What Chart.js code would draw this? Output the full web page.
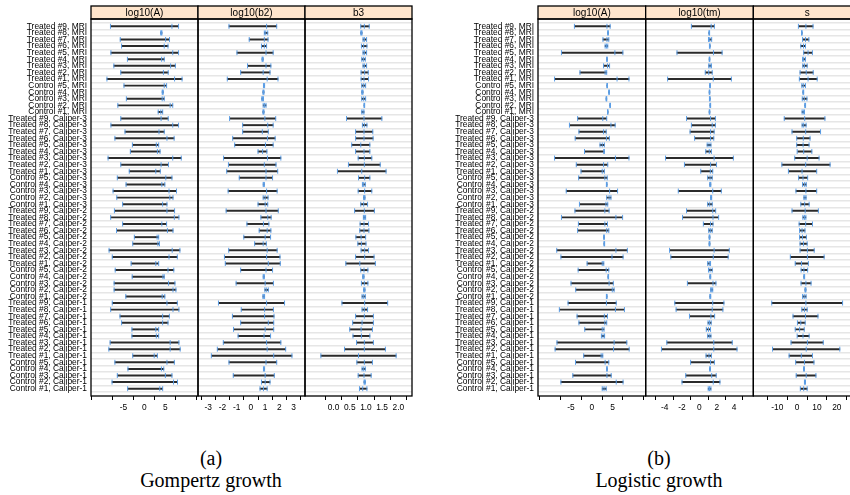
<!DOCTYPE html>
<html><head><meta charset="utf-8">
<script src="https://cdn.jsdelivr.net/npm/chart.js@4.4.1/dist/chart.umd.min.js"></script>
<style>
html,body{margin:0;padding:0;background:#fff;width:850px;height:495px;overflow:hidden;position:relative}
.cv{position:absolute;top:0}
.cap{position:absolute;font-family:"Liberation Serif","Times New Roman",serif;font-size:20px;line-height:24px;text-align:center;white-space:nowrap;color:#000;width:300px}
</style></head><body>
<canvas id="gomp" class="cv" width="420" height="420" style="left:0"></canvas>
<canvas id="logi" class="cv" width="444" height="420" style="left:425px"></canvas>
<div class="cap" style="left:61px;top:446px">(a)</div>
<div class="cap" style="left:61px;top:468px">Gompertz growth</div>
<div class="cap" style="left:509px;top:446px">(b)</div>
<div class="cap" style="left:509px;top:468px">Logistic growth</div>
<script>
const methods = ['MRI', 'Caliper-3', 'Caliper-2', 'Caliper-1'];
const subjects = ['Treated #9', 'Treated #8', 'Treated #7', 'Treated #6', 'Treated #5', 'Treated #4', 'Treated #3', 'Treated #2', 'Treated #1',
                  'Control #5', 'Control #4', 'Control #3', 'Control #2', 'Control #1'];
const categories = methods.flatMap(m => subjects.map(s => s + ', ' + m));

const gompertzTitles = ['log10(A)', 'log10(b2)', 'b3'];
const logisticTitles = ['log10(A)', 'log10(tm)', 's'];

// Gompertz: log10(A)
const gA_lo  = [-8.08,3.9,-5.75,-5.43,-7.97,-4.04,-7.27,-5.62,-8.92,-4.86,4.25,-4.29,-6.32,3.30, -5.62,-7.97,-4.61,-7.02,-2.85,-3.34,-8.65,-5.62,-3.6,-6.45,-4.36,-7.46,-6.57,-5.18, -7.14,-8.03,-5.18,-6.64,-2.39,-2.77,-8.41,-7.65,-3.15,-6.95,-2.9,-7.21,-7.21,-4.42, -7.65,-8.03,-5.81,-5.43,-2.96,-2.96,-8.16,-8.46,-2.77,-7.02,-3.91,-6.45,-7.7,-3.98];
const gA_est = [6.58,4.06,5.07,4.74,6.77,4.12,6.26,4.55,7.21,4.74,4.37,4.25,6.15,3.93, 3.99,6.77,3.49,5.39,2.85,3.11,6.77,3.99,2.73,5.12,4.17,5.88,6.07,4.36, 5.39,7.15,4.17,5.5,3.04,3.23,6.64,5.88,2.73,5.64,4.43,5.77,6.83,4.25, 5.39,6.83,4.36,4.36,2.73,2.85,6.15,6.15,2.35,5.39,4.06,5.01,6.96,3.68];
const gA_hi  = [8.16,4.2,6.0,5.64,8.16,4.74,7.4,5.69,8.99,5.31,4.5,4.74,6.77,4.37, 5.69,8.16,4.74,7.1,3.42,3.74,8.8,5.75,3.8,6.58,4.88,7.67,6.83,5.39, 7.21,8.24,5.31,6.83,3.42,3.61,8.48,7.86,3.42,7.02,4.74,7.29,7.53,4.88, 7.86,8.24,5.96,5.64,3.42,3.42,8.24,8.54,3.11,7.15,4.63,6.58,7.91,4.37];
// Gompertz: log10(b2)
const gB_lo  = [-1.54,0.94,-0.12,0.74,-0.98,0.78,-0.24,-0.72,-1.66,0.88,0.84,0.76,0.86,0.84, -1.5,-0.58,-0.58,-1.28,-1.14,0.5,-1.92,-1.58,-1.7,-0.82,0.86,-1.6,0.86,0.5, -1.74,0.7,-0.28,0.58,-0.5,0.26,-1.56,-1.86,-1.8,-0.72,0.86,-1.04,0.98,0.84, -2.28,-0.68,-1.3,-0.72,-1.22,-0.9,-1.94,-2.36,-2.78,-1.54,0.88,-1.24,0.74,0.64];
const gB_est = [1.10,1.04,0.94,0.94,1.06,0.82,1.06,0.86,1.14,0.92,0.88,0.82,0.96,0.88, 0.98,1.18,0.8,1.16,1.02,0.82,1.16,0.94,1.06,1.06,0.9,1.1,1.0,1.0, 1.06,1.18,0.88,1.14,1.0,0.86,1.14,1.1,1.22,1.06,0.9,1.0,1.08,0.9, 1.1,0.96,0.96,1.22,1.0,0.92,1.1,1.14,1.6,1.06,0.92,1.0,1.0,0.88];
const gB_hi  = [1.81,1.18,1.2,1.1,1.56,0.86,1.4,1.34,1.9,0.96,0.92,0.88,1.06,0.92, 1.74,1.56,1.22,1.7,1.56,1.12,2.1,1.76,1.88,1.52,0.94,1.84,1.2,1.18, 1.92,1.42,1.26,1.4,1.38,1.08,1.84,2.04,2.06,1.52,0.94,1.58,1.22,0.96, 2.36,1.58,1.62,1.6,1.6,1.38,2.1,2.44,2.88,1.81,0.96,1.64,1.34,1.14];
// Gompertz: b3
const gC_lo  = [0.84,0.84,0.91,0.86,0.91,0.87,0.91,0.85,0.85,0.87,0.87,0.87,0.94,0.87, 0.4,0.89,0.68,0.68,0.56,0.68,0.76,0.46,0.12,0.77,0.89,0.76,0.93,0.84, 0.65,0.92,0.82,0.81,0.69,0.75,0.85,0.68,0.38,0.84,0.9,0.86,0.93,0.88, 0.26,0.88,0.68,0.59,0.5,0.6,0.71,0.34,-0.39,0.72,0.88,0.76,0.94,0.8];
const gC_est = [0.95,0.86,0.95,0.93,0.95,0.92,0.95,0.96,0.94,0.93,0.89,0.93,0.95,0.91, 0.94,0.95,0.94,0.94,0.84,0.94,0.95,0.95,0.87,0.96,0.93,0.96,0.95,0.93, 0.95,0.95,0.94,0.94,0.85,0.86,0.96,0.96,0.81,0.94,0.92,0.95,0.95,0.93, 0.96,0.95,0.95,0.88,0.85,0.86,0.95,0.95,0.77,0.95,0.93,0.94,0.96,0.9];
const gC_hi  = [1.1,0.88,1.02,1.03,1.02,0.98,1.02,1.07,1.08,0.99,0.91,0.99,0.96,0.94, 1.49,1.03,1.21,1.22,1.12,1.12,1.18,1.44,1.62,1.12,0.98,1.18,0.97,1.05, 1.26,0.99,1.08,1.09,0.99,1.0,1.08,1.25,1.29,1.06,0.94,1.06,0.97,0.98, 1.67,1.05,1.23,1.23,1.2,1.12,1.23,1.6,1.93,1.2,0.98,1.16,0.98,1.03];

// Logistic: log10(A)
const lA_lo  = [-4.17,3.85,2.71,3.23,-7.29,3.6,2.85,-2.83,-8.95,3.65,4.1,3.46,4.36,3.8, -3.4,-5.37,-3.08,-3.98,2.0,-1.74,-8.95,-3.72,-2.58,-3.15,3.53,-6.14,3.61,-2.96, -4.04,-7.29,-3.21,-3.4,2.88,2.95,-8.43,-7.42,-1.11,-3.27,3.92,-4.99,-3.85,3.53, -5.7,-7.8,-3.53,-3.08,-1.68,2.33,-8.37,-8.82,-1.93,-3.91,3.6,-4.55,-7.42,2.53];
const lA_est = [3.67,3.92,3.67,3.54,5.58,3.67,3.8,3.23,6.1,3.73,4.18,3.54,4.44,3.86, 2.66,4.63,2.85,3.54,2.53,2.9,5.71,2.85,2.53,3.16,3.61,4.31,4.18,3.42, 3.16,5.83,3.16,3.61,2.96,3.03,5.83,4.88,2.53,3.48,3.99,4.18,4.95,3.61, 3.54,5.71,3.04,3.16,2.53,2.72,5.39,5.26,2.27,3.23,3.67,3.67,5.9,2.96];
const lA_hi  = [4.44,4.0,4.11,3.86,7.5,3.75,4.3,3.61,8.97,3.8,4.25,3.62,4.52,3.92, 3.61,5.64,3.48,4.25,3.04,3.04,8.97,3.86,3.04,3.73,3.69,6.23,4.63,3.86, 4.18,7.44,3.8,4.11,3.04,3.11,8.58,7.55,2.9,4.11,4.06,5.2,5.39,3.69, 5.9,7.88,3.8,3.61,2.96,3.1,8.45,9.02,2.66,4.11,3.74,4.69,7.55,3.48];
// Logistic: log10(tm)
const lB_lo  = [-0.92,1.1,1.05,1.16,-2.58,1.13,1.08,0.68,-3.66,1.19,1.13,1.16,1.22,1.13, -1.48,-0.92,-1.07,-0.55,0.9,0.74,-3.9,-1.72,0.16,0.96,1.2,-2.43,1.3,0.96, -1.48,-1.94,0.46,1.08,1.12,1.12,-3.44,-3.29,0.96,1.05,1.21,-1.38,1.3,1.21, -2.83,-2.68,-1.14,1.0,0.8,0.96,-3.75,-4.37,0.77,-1.01,1.19,-1.57,-2.0,1.02];
const lB_est = [1.36,1.14,1.2,1.2,1.63,1.17,1.23,1.08,1.6,1.23,1.17,1.2,1.26,1.17, 1.29,1.48,1.29,1.29,1.11,1.14,1.7,1.29,1.26,1.23,1.26,1.54,1.36,1.2, 1.54,1.57,1.29,1.26,1.17,1.17,1.7,1.6,1.14,1.23,1.26,1.57,1.42,1.26, 1.54,1.48,1.33,1.17,1.05,1.14,1.66,1.66,1.11,1.29,1.23,1.42,1.6,1.17];
const lB_hi  = [1.73,1.18,1.42,1.24,2.62,1.21,1.39,1.48,3.69,1.27,1.21,1.24,1.3,1.21, 1.85,1.85,1.7,1.66,1.33,1.39,3.92,1.98,1.54,1.48,1.32,2.53,1.42,1.48, 1.88,2.22,1.57,1.48,1.22,1.22,3.45,3.32,1.29,1.48,1.31,1.91,1.54,1.31, 2.83,2.71,1.76,1.36,1.29,1.33,3.79,4.34,1.39,1.73,1.27,1.94,2.37,1.33];
// Logistic: s
const lC_lo  = [0.63,2.2,2.73,1.84,3.3,2.73,2.84,1.47,1.1,2.36,2.9,2.58,3.85,2.5, -6.5,2.5,-2.58,-0.22,-0.22,0.0,-1.22,-7.7,-4.4,0.74,2.73,-0.59,3.4,1.84, -2.58,2.9,1.0,1.23,1.23,1.47,1.47,-3.44,-0.96,2.0,3.35,1.97,3.95,2.73, -12.8,2.36,-2.08,0.15,-0.96,0.0,-3.07,-12.4,-4.05,-0.74,3.25,-0.47,3.68,1.6];
const lC_est = [4.42,2.36,4.2,3.2,5.5,3.3,3.68,4.57,5.5,3.1,3.1,3.58,4.05,3.1, 3.8,3.3,4.3,3.1,3.0,3.3,5.05,4.3,2.47,2.95,3.8,4.42,3.94,3.8, 4.05,3.68,4.3,2.47,2.7,3.2,5.17,5.17,2.2,3.43,3.56,4.42,4.2,3.56, 4.42,3.68,4.2,1.84,1.25,2.95,5.17,4.57,2.1,3.68,3.46,4.57,3.9,3.3];
const lC_hi  = [8.0,2.5,5.9,4.2,7.7,4.2,5.05,8.1,10.1,4.2,3.3,4.94,4.25,3.7, 14.0,4.5,11.8,6.5,6.0,7.4,11.05,16.6,9.85,5.3,4.6,9.85,4.5,6.04, 10.7,4.4,7.74,3.94,4.66,5.05,8.6,13.6,5.67,5.3,3.77,7.0,4.45,4.5, 22.9,5.05,10.5,4.05,3.57,6.04,13.15,21.5,7.74,8.47,3.67,9.47,4.2,5.05];

// axis ticks and labels
const ticksLogA = [-10, -5, 0, 5, 10];
const tickLabelsLogA = ['', '-5', '0', '5', ''];
const ticksB2 = [-3, -2, -1, 0, 1, 2, 3];
const tickLabelsB2 = ['-3', '-2', '-1', '0', '1', '2', '3'];
const ticksB3 = [0, 0.5, 1, 1.5, 2];
const tickLabelsB3 = ['0.0', '0.5', '1.0', '1.5', '2.0'];
const ticksTm = [-4, -2, 0, 2, 4];
const tickLabelsTm = ['-4', '-2', '0', '2', '4'];
const ticksS = [-10, 0, 10, 20];
const tickLabelsS = ['-10', '0', '10', '20'];

const FONT = '"Liberation Sans", Arial, sans-serif';

const panelFrame = {
  id: 'panelFrame',
  afterDraw(chart, args, opts) {
    const ctx = chart.ctx;
    const top = chart.chartArea.top, bottom = chart.chartArea.bottom;
    opts.titles.forEach((t, k) => {
      const s = chart.scales['x' + k];
      ctx.save();
      ctx.fillStyle = '#ffe5cc';
      ctx.fillRect(s.left, top - 13, s.width, 13);
      ctx.strokeStyle = '#000';
      ctx.lineWidth = 1.3;
      ctx.strokeRect(s.left, top - 13, s.width, 13);
      ctx.strokeRect(s.left, top, s.width, bottom - top);
      ctx.fillStyle = '#000';
      ctx.font = '10px ' + FONT;
      ctx.textAlign = 'center';
      ctx.textBaseline = 'middle';
      ctx.fillText(t, (s.left + s.right) / 2, top - 6);
      ctx.restore();
    });
  }
};

function buildFigure(canvasId, yWidth, titles, panels) {
  const scales = {
    y: {
      type: 'linear', min: -0.6, max: categories.length - 0.4, reverse: true,
      afterBuildTicks: s => { s.ticks = categories.map((c, i) => ({ value: i })); },
      afterFit: s => { s.width = yWidth; },
      ticks: { autoSkip: false, padding: 4, color: '#000', font: { family: FONT, size: 8.4 },
               callback: v => categories[v] },
      grid: { color: '#e6e6e6', lineWidth: 1.6, drawTicks: false },
      border: { display: false }
    }
  };
  const datasets = [];
  panels.forEach((p, k) => {
    const xid = 'x' + k;
    scales[xid] = {
      type: 'linear', position: 'bottom', stack: 'panels', stackWeight: 1,
      min: p.range[0], max: p.range[1],
      afterBuildTicks: s => { s.ticks = p.ticks.map(v => ({ value: v })); },
      afterFit: s => { s.height = 24; },
      ticks: { autoSkip: false, maxRotation: 0, minRotation: 0, padding: 3, color: '#000',
               font: { family: FONT, size: 8.4 }, callback: (v, i) => p.labels[i] },
      grid: { drawOnChartArea: false, drawTicks: true, tickLength: 4, tickColor: '#000', tickWidth: 1 },
      border: { display: false }
    };
    datasets.push({
      type: 'bar', indexAxis: 'y', xAxisID: xid, yAxisID: 'y', grouped: false,
      barThickness: 1.3, backgroundColor: '#2a2a2a', borderWidth: 0, order: 2,
      data: p.lo.map((l, i) => ({ y: i, x: [l, p.hi[i]] }))
    });
    const pts = [];
    p.lo.forEach((l, i) => { pts.push({ x: l, y: i }, { x: p.est[i], y: i }, { x: p.hi[i], y: i }); });
    datasets.push({
      type: 'scatter', xAxisID: xid, yAxisID: 'y', order: 1, data: pts,
      pointStyle: 'line', rotation: 90, radius: 2.5, borderWidth: 1,
      borderColor: '#5c9fe8', backgroundColor: '#5c9fe8', pointHoverRadius: 2.5
    });
  });
  return new Chart(document.getElementById(canvasId), {
    type: 'bar',
    data: { datasets },
    options: {
      responsive: false, animation: false, events: [],
      layout: { padding: { top: 19, right: 8, left: 0, bottom: 0 } },
      plugins: { legend: { display: false }, tooltip: { enabled: false }, panelFrame: { titles } },
      scales
    },
    plugins: [panelFrame]
  });
}

buildFigure('gomp', 91, gompertzTitles, [
  { lo: gA_lo, est: gA_est, hi: gA_hi, range: [-10.17, 10.24], ticks: ticksLogA, labels: tickLabelsLogA },
  { lo: gB_lo, est: gB_est, hi: gB_hi, range: [-3.18, 3.26], ticks: ticksB2, labels: tickLabelsB2 },
  { lo: gC_lo, est: gC_est, hi: gC_hi, range: [-0.55, 2.09], ticks: ticksB3, labels: tickLabelsB3 }
]);
buildFigure('logi', 113, logisticTitles, [
  { lo: lA_lo, est: lA_est, hi: lA_hi, range: [-10.35, 10.4], ticks: ticksLogA, labels: tickLabelsLogA },
  { lo: lB_lo, est: lB_est, hi: lB_hi, range: [-4.95, 4.98], ticks: ticksTm, labels: tickLabelsTm },
  { lo: lC_lo, est: lC_est, hi: lC_hi, range: [-15.3, 25.4], ticks: ticksS, labels: tickLabelsS }
]);
</script>
</body></html>
